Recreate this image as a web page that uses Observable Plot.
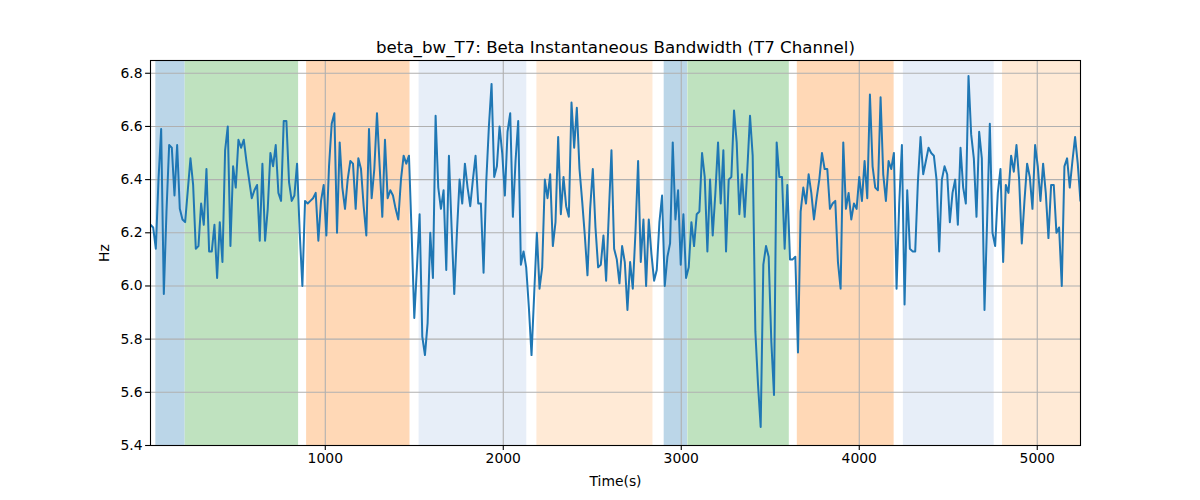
<!DOCTYPE html>
<html>
<head>
<meta charset="utf-8">
<script src="https://cdn.jsdelivr.net/npm/d3@7"></script>
<script src="https://cdn.jsdelivr.net/npm/@observablehq/plot@0.6"></script>
<style>
  html, body { margin: 0; padding: 0; background: #fff; }
  #chart svg { display: block; }
</style>
</head>
<body>
<div id="chart"></div>
<script>
const chartTitle = "beta_bw_T7: Beta Instantaneous Bandwidth (T7 Channel)";
const xLabel = "Time(s)";
const yLabel = "Hz";

// sampling of the series (seconds)
const tStart = 18;
const tStep = 14.97;

// Beta instantaneous bandwidth (Hz)
const bandwidth = [
  6.23, 6.22, 6.14, 6.40, 6.59, 5.97, 6.28, 6.53, 6.52, 6.34,
  6.53, 6.29, 6.25, 6.24, 6.36, 6.48, 6.38, 6.14, 6.15, 6.31,
  6.23, 6.44, 6.13, 6.13, 6.23, 6.03, 6.24, 6.09, 6.51, 6.60,
  6.15, 6.45, 6.37, 6.55, 6.52, 6.55, 6.47, 6.40, 6.33, 6.36,
  6.38, 6.17, 6.46, 6.17, 6.29, 6.50, 6.45, 6.53, 6.35, 6.32,
  6.62, 6.62, 6.39, 6.32, 6.34, 6.46, 6.20, 6.00, 6.32, 6.31,
  6.32, 6.33, 6.35, 6.17, 6.32, 6.38, 6.19, 6.45, 6.61, 6.65,
  6.20, 6.54, 6.37, 6.29, 6.40, 6.47, 6.46, 6.29, 6.48, 6.44,
  6.30, 6.19, 6.59, 6.33, 6.44, 6.65, 6.45, 6.26, 6.55, 6.33,
  6.36, 6.34, 6.29, 6.25, 6.40, 6.49, 6.46, 6.49, 6.20, 5.88,
  6.07, 6.27, 5.81, 5.74, 5.86, 6.20, 6.03, 6.64, 6.37, 6.29,
  6.36, 6.06, 6.49, 6.22, 5.97, 6.20, 6.40, 6.31, 6.46, 6.37,
  6.30, 6.40, 6.49, 6.31, 6.31, 6.05, 6.39, 6.60, 6.76, 6.41,
  6.45, 6.60, 6.50, 6.34, 6.58, 6.65, 6.26, 6.47, 6.62, 6.08,
  6.13, 6.07, 5.92, 5.74, 5.97, 6.20, 5.99, 6.07, 6.40, 6.33,
  6.42, 6.15, 6.24, 6.56, 6.27, 6.41, 6.30, 6.26, 6.69, 6.52,
  6.67, 6.44, 6.32, 6.19, 6.04, 6.29, 6.44, 6.22, 6.07, 6.08,
  6.19, 6.02, 6.27, 6.51, 6.14, 6.10, 6.01, 6.15, 6.09, 5.91,
  6.09, 5.99, 6.20, 6.47, 6.09, 6.25, 6.00, 6.25, 6.12, 6.02,
  6.06, 6.24, 6.34, 6.00, 6.11, 6.16, 6.54, 6.25, 6.36, 6.08,
  6.27, 6.03, 6.07, 6.24, 6.15, 6.27, 6.28, 6.50, 6.41, 6.13,
  6.40, 6.19, 6.35, 6.54, 6.31, 6.51, 6.13, 6.40, 6.41, 6.66,
  6.54, 6.27, 6.42, 6.26, 6.44, 6.64, 6.49, 5.83, 5.63, 5.47,
  6.08, 6.15, 6.11, 5.79, 5.59, 6.54, 6.41, 6.41, 6.14, 6.38,
  6.10, 6.10, 6.11, 5.75, 6.28, 6.37, 6.31, 6.42, 6.35, 6.25,
  6.33, 6.40, 6.50, 6.44, 6.44, 6.29, 6.31, 6.32, 6.09, 5.99,
  6.54, 6.29, 6.35, 6.25, 6.31, 6.29, 6.41, 6.32, 6.47, 6.33,
  6.72, 6.45, 6.37, 6.36, 6.71, 6.42, 6.32, 6.47, 6.44, 6.50,
  5.99, 6.31, 6.53, 5.93, 6.36, 6.14, 6.13, 6.13, 6.39, 6.56,
  6.42, 6.47, 6.52, 6.50, 6.49, 6.40, 6.13, 6.40, 6.45, 6.42,
  6.24, 6.35, 6.40, 6.23, 6.52, 6.37, 6.31, 6.79, 6.57, 6.48,
  6.26, 6.58, 6.48, 5.91, 6.25, 6.61, 6.20, 6.15, 6.35, 6.44,
  6.09, 6.38, 6.35, 6.49, 6.43, 6.53, 6.40, 6.16, 6.32, 6.46,
  6.41, 6.29, 6.53, 6.45, 6.32, 6.46, 6.35, 6.18, 6.38, 6.38,
  6.20, 6.22, 6.00, 6.45, 6.48, 6.37, 6.47, 6.56, 6.46, 6.32
];

// shaded segments (seconds)
const spanStart = [48, 213, 895, 1527, 2189, 2904, 3037, 3652, 4248, 4805];
const spanEnd   = [212, 850, 1476, 2132, 2841, 3035, 3607, 4196, 4758, 5243];
const spanColor = ["#1f77b4", "#2ca02c", "#ff7f0e", "#aec7e8", "#ffbb78",
                   "#1f77b4", "#2ca02c", "#ff7f0e", "#aec7e8", "#ffbb78"];

const xTicks = [1000, 2000, 3000, 4000, 5000];
const yTicks = [5.4, 5.6, 5.8, 6.0, 6.2, 6.4, 6.6, 6.8];
const xDomain = [18, 5243];
const yDomain = [5.4, 6.848];

const series = bandwidth.map((v, i) => ({t: tStart + i * tStep, v}));
const spans = spanStart.map((s, i) => ({start: s, end: spanEnd[i], color: spanColor[i]}));

const gridStyle = {stroke: "#b0b0b0", strokeOpacity: 1, strokeWidth: 1.1};

const chart = Plot.plot({
  width: 1200,
  height: 500,
  marginLeft: 150,
  marginRight: 120,
  marginTop: 60,
  marginBottom: 55,
  style: {fontFamily: "'DejaVu Sans', sans-serif", fontSize: "13.9px", color: "black", background: "white"},
  x: {domain: xDomain},
  y: {domain: yDomain},
  color: {type: "identity"},
  marks: [
    Plot.rect(spans, {x1: "start", x2: "end", fill: "color", fillOpacity: 0.3}),
    Plot.gridX(xTicks, gridStyle),
    Plot.gridY(yTicks, gridStyle),
    Plot.line(series, {x: "t", y: "v", stroke: "#1f77b4", strokeWidth: 2, clip: true}),
    Plot.frame({stroke: "black", strokeWidth: 1.1}),
    Plot.axisX(xTicks, {
      tickSize: 4.9, tickPadding: 3, fontSize: 13.9, strokeWidth: 1.1,
      tickFormat: d => String(d),
      label: xLabel, labelAnchor: "center", labelArrow: "none", labelOffset: 40
    }),
    Plot.axisY(yTicks, {
      tickSize: 4.9, tickPadding: 3, fontSize: 13.9, strokeWidth: 1.1,
      tickFormat: d => d.toFixed(1),
      label: yLabel, labelAnchor: "center", labelArrow: "none", labelOffset: 51
    }),
    Plot.text([chartTitle], {
      text: d => d, frameAnchor: "top", lineAnchor: "bottom", dy: -8,
      fontSize: 16.67, fill: "black"
    })
  ]
});

document.getElementById("chart").appendChild(chart);
</script>
</body>
</html>
